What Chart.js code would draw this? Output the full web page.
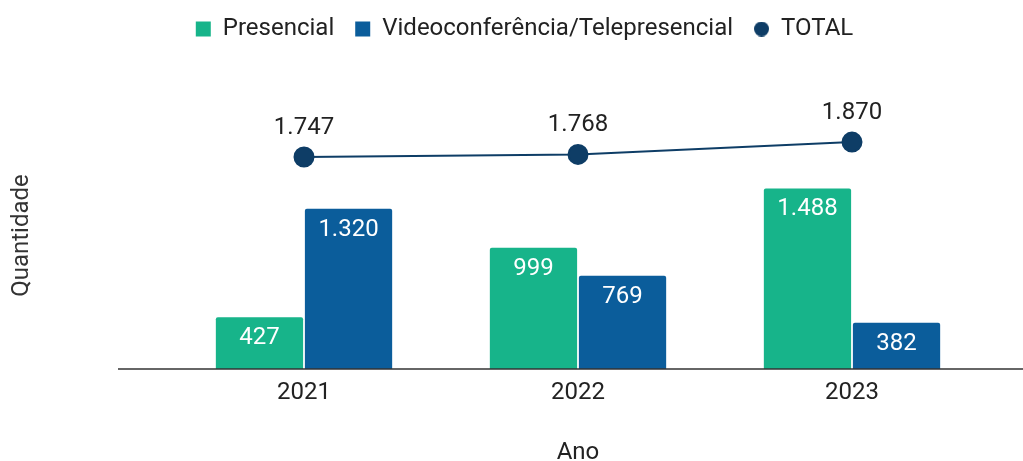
<!DOCTYPE html>
<html>
<head>
<meta charset="utf-8">
<script src="https://cdn.jsdelivr.net/npm/chart.js@4"></script>
<style>
  html, body { margin: 0; padding: 0; background: #fff; }
  #wrap { width: 1023px; height: 461px; }
</style>
</head>
<body>
<div id="wrap"><canvas id="chart"></canvas></div>
<script>
const years = ['2021', '2022', '2023']
const presencial = [427, 999, 1488]
const video = [1320, 769, 382]
const total = [1747, 1768, 1870]

const GREEN = '#17b48a'
const BLUE = '#0b5d9b'
const NAVY = '#0e3d66'
const FONT = 'Roboto'

function fmt(v) {
    // pt-BR thousands separator
    return String(v).replace(/\B(?=(\d{3})+(?!\d))/g, '.')
}

// small round marker for the TOTAL legend entry
const dot = document.createElement('canvas')
dot.width = 15
dot.height = 15
const dctx = dot.getContext('2d')
dctx.fillStyle = NAVY
dctx.beginPath()
dctx.arc(7.5, 7.5, 7.5, 0, Math.PI * 2)
dctx.fill()

const legendBox = {
    id: 'legendBox',
    beforeInit(chart) {
        const fit = chart.legend.fit
        chart.legend.fit = function () {
            fit.call(this)
            this.height = 102
        }
    },
    afterLayout(chart) {
        const lg = chart.legend
        lg.left += 30
        lg.right += 30
        lg.top -= 4
        lg.bottom -= 4
    }
}

const baseline = {
    id: 'baseline',
    afterDatasetsDraw(chart) {
        const ctx = chart.ctx
        const y = chart.chartArea.bottom
        ctx.save()
        ctx.strokeStyle = '#333'
        ctx.lineWidth = 1.5
        ctx.beginPath()
        ctx.moveTo(118, y)
        ctx.lineTo(chart.width, y)
        ctx.stroke()
        ctx.restore()
    }
}

const valueLabels = {
    id: 'valueLabels',
    afterDatasetsDraw(chart) {
        const ctx = chart.ctx
        ctx.save()
        ctx.font = '24px ' + FONT
        ctx.textAlign = 'center'
        ctx.textBaseline = 'middle'
        chart.data.datasets.forEach((ds, i) => {
            chart.getDatasetMeta(i).data.forEach((el, j) => {
                if (ds.type === 'line') {
                    ctx.fillStyle = '#222'
                    ctx.fillText(fmt(ds.data[j]), el.x, el.y - 29)
                } else {
                    ctx.fillStyle = '#fff'
                    ctx.fillText(fmt(ds.data[j]), el.x, el.y + 21)
                }
            })
        })
        ctx.restore()
    }
}

new Chart(document.getElementById('chart'), {
    type: 'bar',
    data: {
        labels: years,
        datasets: [
            {
                type: 'line',
                label: 'TOTAL',
                data: total,
                borderColor: NAVY,
                backgroundColor: NAVY,
                borderWidth: 2,
                pointRadius: 9.5,
                pointHoverRadius: 9.5,
                pointStyle: 'circle',
                order: 0
            },
            {
                label: 'Presencial',
                data: presencial,
                backgroundColor: GREEN,
                borderRadius: 2,
                pointStyle: 'rect',
                order: 1
            },
            {
                label: 'Videoconferência/Telepresencial',
                data: video,
                backgroundColor: BLUE,
                borderRadius: 2,
                pointStyle: 'rect',
                order: 1
            }
        ]
    },
    options: {
        responsive: true,
        maintainAspectRatio: false,
        animation: false,
        events: [],
        layout: { padding: { left: 0, right: 34, top: 0, bottom: -6 } },
        datasets: {
            bar: { categoryPercentage: 0.65, barPercentage: 0.98 }
        },
        scales: {
            x: {
                grid: { display: false, drawTicks: false },
                border: { display: false },
                ticks: { color: '#222', font: { family: FONT, size: 24 }, padding: 10 },
                title: {
                    display: true, text: 'Ano', color: '#222',
                    font: { family: FONT, size: 24 },
                    padding: { top: 0, bottom: 0 }
                },
                afterFit(scale) { scale.height = 98 }
            },
            y: {
                min: 0,
                max: 2200,
                grid: { display: false, drawTicks: false },
                border: { display: false },
                ticks: { display: false },
                title: {
                    display: true, text: 'Quantidade', color: '#333',
                    font: { family: FONT, size: 24 },
                    padding: { top: 8, bottom: 0 }
                },
                afterFit(scale) { scale.width = 167 }
            }
        },
        plugins: {
            tooltip: { enabled: false },
            legend: {
                position: 'top',
                labels: {
                    generateLabels(chart) {
                        const items = Chart.defaults.plugins.legend.labels.generateLabels(chart)
                        items.forEach(it => { if (it.datasetIndex === 0) it.pointStyle = dot })
                        // bars first, total last
                        return items.filter(it => it.datasetIndex !== 0)
                            .concat(items.filter(it => it.datasetIndex === 0))
                    },
                    usePointStyle: true,
                    boxWidth: 15,
                    boxHeight: 15,
                    padding: 21,
                    color: '#222',
                    font: { family: FONT, size: 24 }
                }
            }
        }
    },
    plugins: [legendBox, baseline, valueLabels]
})
</script>
</body>
</html>
